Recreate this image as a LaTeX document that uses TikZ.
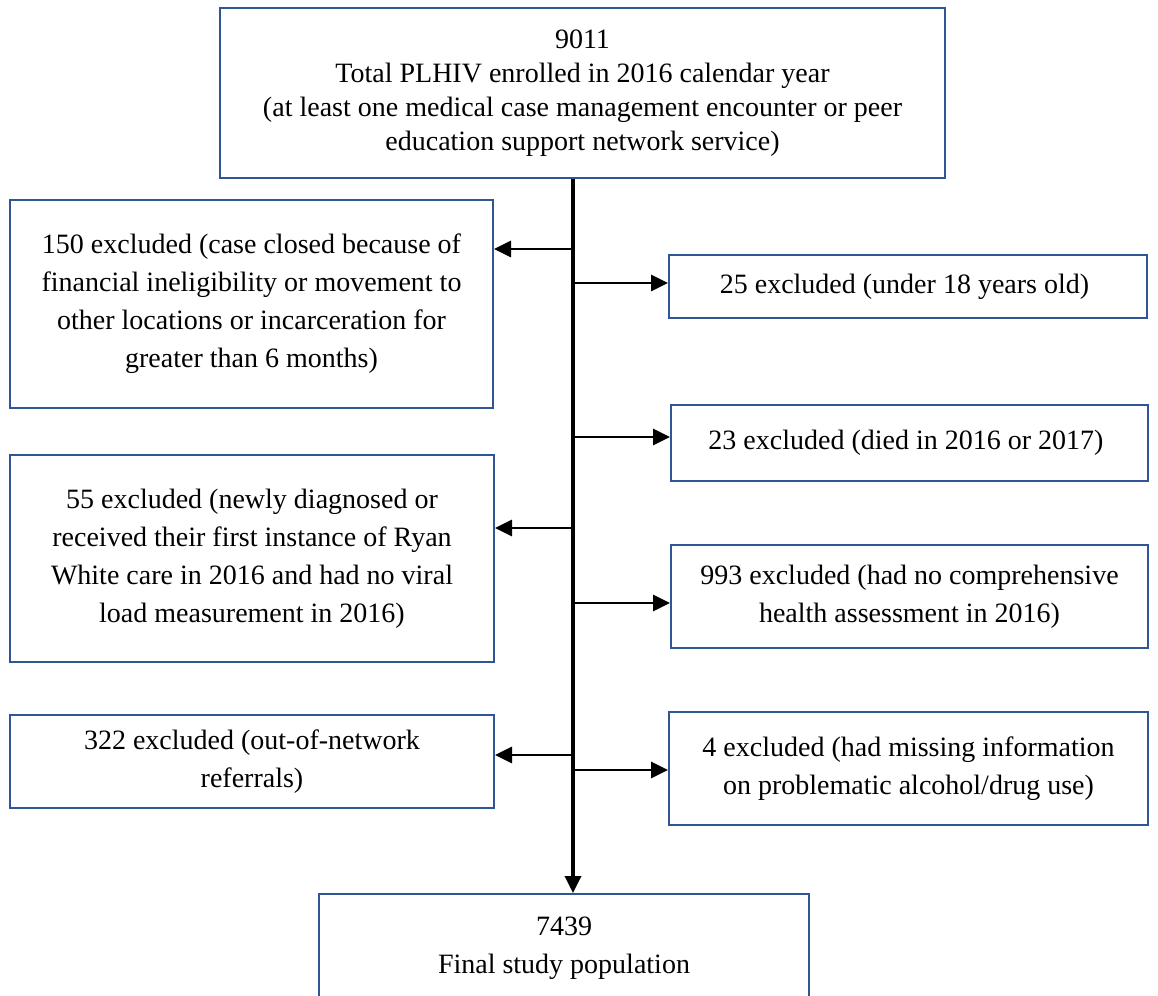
\documentclass[tikz,border=0pt]{standalone}
\usepackage{fontspec}
\setmainfont{Liberation Serif}
\usetikzlibrary{arrows.meta}

\definecolor{boxblue}{RGB}{47,85,151}

\tikzset{
    box/.style={draw=boxblue, line width=1pt, align=center, inner sep=4pt,
        font=\fontsize{14}{19}\selectfont},
    trunk/.style={line width=1.7pt, -{Triangle[length=8.5pt,width=8pt]}},
    branch/.style={line width=1.4pt, -{Triangle[length=8.5pt,width=8pt]}}
}

\begin{document}
\begin{tikzpicture}[x=0.5pt,y=-0.5pt]
    \useasboundingbox (0,0) rectangle (1158,996);

    % top and bottom
    \node[box, minimum width=362.5pt, minimum height=85pt, font=\fontsize{14}{17}\selectfont] (total) at (582.5,93) {
        9011\\
        Total PLHIV enrolled in 2016 calendar year\\
        (at least one medical case management encounter or peer\\
        education support network service)
    };
    \node[box, anchor=north, minimum width=245pt, inner ysep=11.7pt] (final) at (564,893) {
        7439\\
        Final study population
    };

    % left side
    \node[box, minimum width=241.5pt, minimum height=104pt] (ex150) at (251.5,304) {
        150 excluded (case closed because of\\
        financial ineligibility or movement to\\
        other locations or incarceration for\\
        greater than 6 months)
    };
    \node[box, minimum width=242pt, minimum height=103.5pt] (ex55) at (252,558.5) {
        55 excluded (newly diagnosed or\\
        received their first instance of Ryan\\
        White care in 2016 and had no viral\\
        load measurement in 2016)
    };
    \node[box, minimum width=242pt, minimum height=46.5pt] (ex322) at (252,761.5) {
        322 excluded (out-of-network\\
        referrals)
    };

    % right side
    \node[box, minimum width=239pt, minimum height=31.5pt] (ex25) at (908,286.5) {
        25 excluded (under 18 years old)
    };
    \node[box, minimum width=238.5pt, minimum height=38pt] (ex23) at (909.5,443) {
        23 excluded (died in 2016 or 2017)
    };
    \node[box, minimum width=238.5pt, minimum height=51.5pt] (ex993) at (909.5,596.5) {
        993 excluded (had no comprehensive\\
        health assessment in 2016)
    };
    \node[box, minimum width=239.5pt, minimum height=56.5pt] (ex4) at (908.5,768.5) {
        4 excluded (had missing information\\
        on problematic alcohol/drug use)
    };

    % spine and branches
    \coordinate (spine) at (573,0);
    \draw[trunk] (spine |- total.south) -- (spine |- final.north);

    \coordinate (j150) at (573,249);
    \coordinate (j25) at (573,283);
    \coordinate (j23) at (573,437);
    \coordinate (j55) at (573,528);
    \coordinate (j993) at (573,603);
    \coordinate (j322) at (573,755);
    \coordinate (j4) at (573,770);

    \draw[branch] (j150) -- (j150 -| ex150.east);
    \draw[branch] (j55) -- (j55 -| ex55.east);
    \draw[branch] (j322) -- (j322 -| ex322.east);
    \draw[branch] (j25) -- (j25 -| ex25.west);
    \draw[branch] (j23) -- (j23 -| ex23.west);
    \draw[branch] (j993) -- (j993 -| ex993.west);
    \draw[branch] (j4) -- (j4 -| ex4.west);
\end{tikzpicture}
\end{document}
